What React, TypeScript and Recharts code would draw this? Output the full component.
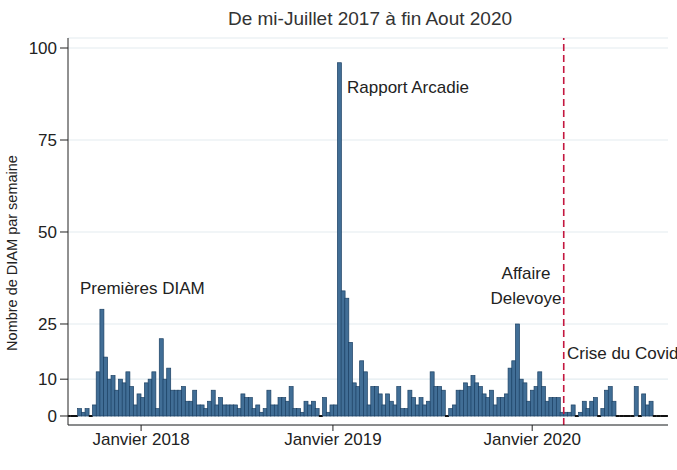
import { BarChart, Bar, XAxis, YAxis, CartesianGrid, ReferenceLine } from 'recharts';

// weekly count of DIAM, mid-July 2017 -> end of August 2020
const WEEKLY_DIAM = [
  0, 0, 0,
  2, 1, 2, 0, 3, 12, 29, 16, 10, 11, 7, 10, 9, 12, 8, 3, 6, 5, 9, 10, 12, 2, 21, 10,
  13, 7, 7, 7, 8, 4, 4, 7, 3, 3, 2, 4, 7, 3, 5, 3, 3, 3, 3, 2, 6, 5, 5, 2,
  3, 1, 2, 7, 3, 3, 5, 5, 4, 8, 2, 2, 1, 4, 3, 4, 2, 0, 5, 1, 3, 3,
  96, 34, 32, 20, 9, 8, 15, 12, 3, 8, 8, 6, 3, 6, 4, 3, 8, 2, 2, 7, 5, 3, 5, 3, 4,
  12, 8, 8, 7, 0, 2, 3, 7, 7, 9, 8, 11, 9, 8, 6, 5, 7, 3, 5, 5, 6, 13, 15, 25,
  10, 9, 4, 7, 8, 12, 8, 4, 5, 5, 5, 1, 1, 1, 3, 0, 1, 4, 2, 4, 5, 0, 2, 7, 8, 4,
  0, 0, 0, 0, 0, 8, 0, 6, 3, 4, 0, 0, 0, 0,
];

const X_TICKS = [19.6, 71.3, 125];
const X_TICK_LABELS = ['Janvier 2018', 'Janvier 2019', 'Janvier 2020'];
const Y_TICKS = [0, 10, 25, 50, 75, 100];
const COVID_WEEK = 133.5;

const data = WEEKLY_DIAM.map((v, i) => ({ week: i, diam: v }));

const FONT = '"Liberation Sans", Arial, sans-serif';

const BarShape = (p: any) => {
  const { x, y, width, height } = p;
  if (!height) {
    return <line x1={x} x2={x + width} y1={y} y2={y} stroke="#111" strokeWidth={2} />;
  }
  return <rect x={x} y={y} width={width} height={height} fill="#416e96" stroke="#1c4164" strokeWidth={0.7} />;
};

export default function App() {
  return (
    <div style={{ position: 'absolute', left: 0, top: 0, width: 677, height: 470, background: '#fff' }}>
      <BarChart
        width={677}
        height={470}
        data={data}
        margin={{ top: 38, right: 9, bottom: 15, left: 0 }}
        barCategoryGap={0}
        barGap={0}
      >
        <CartesianGrid vertical={false} stroke="#e3ecf0" strokeWidth={1.2} />
        <XAxis
          dataKey="week"
          type="number"
          domain={[-0.1, 161.6]}
          ticks={X_TICKS}
          tickFormatter={(v: number) => X_TICK_LABELS[X_TICKS.indexOf(v)]}
          tick={{ fontSize: 17, fill: '#222', fontFamily: FONT }}
          axisLine={{ stroke: '#222' }}
          tickLine={{ stroke: '#222' }}
          tickSize={6}
          tickMargin={2}
          height={30}
          allowDataOverflow
        />
        <YAxis
          type="number"
          domain={[-2.45, 102.72]}
          ticks={Y_TICKS}
          interval={0}
          tick={{ fontSize: 17, fill: '#222', fontFamily: FONT }}
          axisLine={{ stroke: '#222' }}
          tickLine={{ stroke: '#222' }}
          tickSize={8}
          tickMargin={3}
          width={68}
          allowDataOverflow
        />
        <Bar dataKey="diam" shape={BarShape} isAnimationActive={false} />
        <ReferenceLine x={COVID_WEEK} stroke="#c4173f" strokeWidth={1.6} strokeDasharray="7 4" />
      </BarChart>
      <svg width={677} height={470} style={{ position: 'absolute', left: 0, top: 0, pointerEvents: 'none' }}>
        <g fontFamily={FONT} fill="#222">
          <text x={370} y={25} fontSize={19} textAnchor="middle" fill="#333">De mi-Juillet 2017 à fin Aout 2020</text>
          <text x={17} y={253} fontSize={14.5} textAnchor="middle" transform="rotate(-90 17 253)">Nombre de DIAM par semaine</text>
          <text x={80} y={294} fontSize={17}>Premières DIAM</text>
          <text x={347} y={93} fontSize={17}>Rapport Arcadie</text>
          <text x={526} y={279} fontSize={17} textAnchor="middle">Affaire</text>
          <text x={526} y={304} fontSize={17} textAnchor="middle">Delevoye</text>
          <text x={567} y={359} fontSize={17}>Crise du Covid</text>
        </g>
      </svg>
    </div>
  );
}
